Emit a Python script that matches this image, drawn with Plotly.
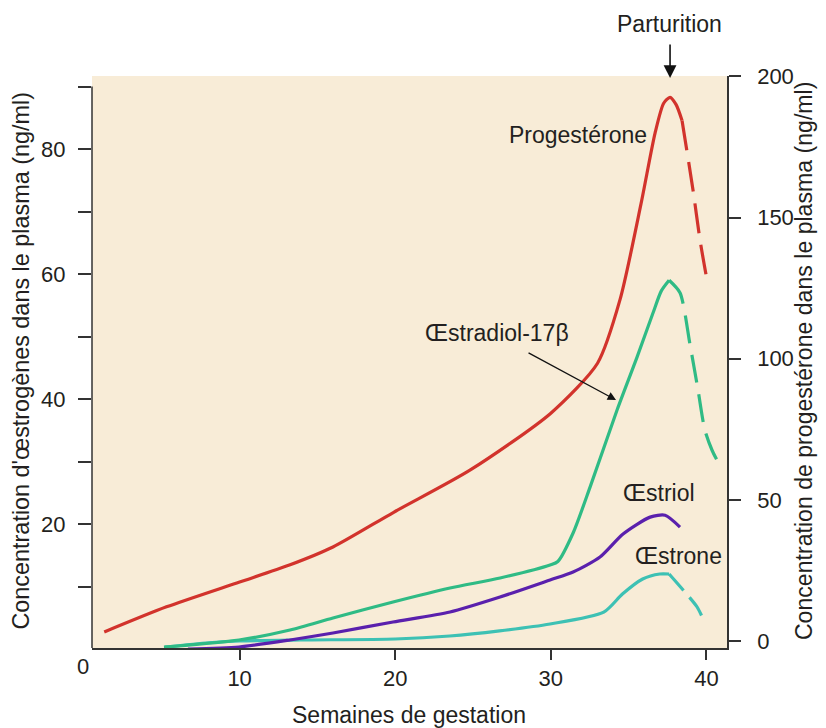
import plotly.graph_objects as go

# ---- data (weeks of gestation) ----
prog_x = [1.3, 5.3, 10.0, 13.2, 16.0, 19.9, 24.8, 30.0, 33.0, 34.45, 35.8, 36.7, 37.25, 37.66, 38.05, 38.43]
prog_y = [3.2, 12.1, 20.9, 26.9, 33.3, 45.6, 60.5, 80.7, 98.4, 121.0, 155.0, 180.0, 190.5, 192.6, 190.0, 184.4]
prog_dx = [38.43, 39.14, 39.59, 40.04]
prog_dy = [184.4, 159.6, 141.9, 127.7]

e2_x = [5.14, 9.96, 13.24, 16.0, 19.86, 23.52, 26.74, 29.95, 30.45, 31.43, 32.52, 34.25, 35.54, 36.57, 37.1, 37.6]
e2_y = [0.3, 1.44, 3.04, 4.96, 7.52, 9.76, 11.36, 13.44, 14.0, 18.56, 25.9, 38.2, 46.7, 53.8, 57.3, 59.0]
e2_dx = [37.6, 38.3, 38.95, 39.46, 39.9, 40.36, 40.68]
e2_dy = [59.0, 57.0, 48.6, 41.4, 35.0, 31.8, 30.2]

e3_x = [6.68, 9.96, 13.24, 16.0, 19.86, 23.52, 26.74, 29.95, 31.43, 33.16, 34.64, 36.38, 37.34, 38.3]
e3_y = [0.0, 0.32, 1.44, 2.56, 4.32, 5.92, 8.32, 11.04, 12.32, 14.72, 18.4, 21.1, 21.4, 19.5]

e1_x = [5.2, 8.0, 10.0, 13.9, 20.0, 23.5, 26.7, 29.95, 33.4, 34.6, 35.9, 37.0, 37.6]
e1_y = [0.3, 1.0, 1.28, 1.44, 1.6, 2.08, 2.9, 4.0, 5.9, 8.8, 11.2, 12.0, 12.0]
e1_dx = [37.6, 38.5, 39.4, 39.9]
e1_dy = [12.0, 9.44, 6.72, 4.16]

x_ticks = [10, 20, 30, 40]
left_ticks = [10, 20, 30, 40, 50, 60, 70, 80, 90]
left_text = ["", "20", "", "40", "", "60", "", "80", ""]
right_ticks = [0, 50, 100, 150, 200]

RED = "#d2332c"
GREEN = "#2fbb85"
PURPLE = "#5a20ad"
TEAL = "#3dc1b4"
BG = "#f8ecd7"
INK = "#231f20"
FONT = "Liberation Sans, Arial, sans-serif"

fig = go.Figure()

def add(x, y, color, dash=None, axis="y"):
    fig.add_trace(go.Scatter(
        x=x, y=y, mode="lines", yaxis=axis,
        line=dict(color=color, width=3.2, shape="spline", smoothing=0.7,
                  dash=dash if dash else "solid"),
        hoverinfo="skip", showlegend=False))

add(e1_x, e1_y, TEAL)
add(e1_dx, e1_dy, TEAL, "22px,9px")
add(e3_x, e3_y, PURPLE)
add(e2_x, e2_y, GREEN)
add(e2_dx, e2_dy, GREEN, "28px,12px")
add(prog_x, prog_y, RED, axis="y2")
add(prog_dx, prog_dy, RED, "30px,12px", axis="y2")

tickfont = dict(family=FONT, size=22, color=INK)

fig.update_layout(
    width=826, height=728,
    margin=dict(l=92, r=99, t=76, b=80),
    paper_bgcolor="white", plot_bgcolor=BG,
    font=dict(family=FONT, size=23, color=INK),
    xaxis=dict(range=[0.514, 41.32], tickvals=x_ticks, ticks="outside", ticklen=10,
               tickwidth=1.5, tickcolor="#333", showline=True, linecolor="#333",
               linewidth=1.5, showgrid=False, zeroline=False, tickfont=tickfont),
    yaxis=dict(range=[0.16, 91.68], tickvals=left_ticks, ticktext=left_text,
               ticks="outside", ticklen=13, tickwidth=1.5, tickcolor="#333",
               ticklabelstandoff=8,
               showline=False, showgrid=False, zeroline=False, tickfont=tickfont),
    yaxis2=dict(range=[-2.48, 200.15], tickvals=right_ticks, overlaying="y", side="right",
                ticks="outside", ticklen=12, tickwidth=1.5, tickcolor="#333",
                ticklabelstandoff=12,
                showline=True, linecolor="#333", linewidth=1.5,
                showgrid=False, zeroline=False, tickfont=tickfont),
)

# left axis line spans 0..90 only
fig.add_shape(type="line", xref="paper", yref="y", x0=0, x1=0, y0=0.16, y1=90,
              line=dict(color="#333", width=1.5))

ann = []
def text(t, x, y, xref="x", yref="y", angle=0, size=23):
    ann.append(dict(text=t, x=x, y=y, xref=xref, yref=yref, showarrow=False,
                    textangle=angle, font=dict(family=FONT, size=size, color=INK),
                    xanchor="center", yanchor="middle"))

text("Semaines de gestation", 0.499, -0.117, "paper", "paper")
text("Concentration d'œstrogènes dans le plasma (ng/ml)", -0.111, 0.5017, "paper", "paper", -90, 23.4)
text("Concentration de progestérone dans le plasma (ng/ml)", 1.1213, 0.5017, "paper", "paper", -90, 23.1)
text("0", -0.0142, -0.0315, "paper", "paper", size=22)
text("Parturition", 37.6, 1.091, "x", "paper")
text("Progestérone", 31.72, 82.2)
text("Œstradiol-17β", 26.51, 50.56)
text("Œstriol", 36.95, 24.96)
text("Œstrone", 38.2, 14.88)

ann.append(dict(text="", x=37.66, y=0.9965, xref="x", yref="paper", ax=0, ay=-35,
                showarrow=True, arrowhead=2, arrowsize=1.6, arrowwidth=1.6, arrowcolor="#111"))
ann.append(dict(text="", x=34.19, y=39.84, xref="x", yref="y", ax=-89, ay=-48,
                showarrow=True, arrowhead=2, arrowsize=1.3, arrowwidth=1.3, arrowcolor="#111"))
fig.update_layout(annotations=ann)

fig.write_html("out.html", config={"displayModeBar": False})

# remove the browser's default page margin so the figure sits at the top-left corner
with open("out.html", "r", encoding="utf-8") as f:
    html = f.read()
html = html.replace("<head>", "<head><style>html,body{margin:0;padding:0;overflow:hidden;}</style>", 1)
with open("out.html", "w", encoding="utf-8") as f:
    f.write(html)
